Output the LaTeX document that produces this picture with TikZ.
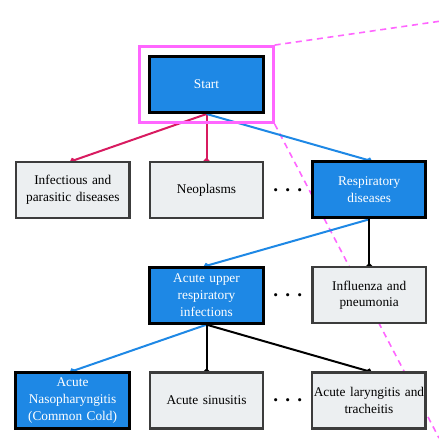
\documentclass[tikz,border=0pt]{standalone}
\usepackage{fontspec}
\setmainfont{Liberation Serif}
\usetikzlibrary{positioning,arrows.meta,backgrounds,fit,calc}
\definecolor{hiblue}{RGB}{30,136,229}
\definecolor{hired}{RGB}{216,27,96}
\definecolor{hipink}{RGB}{255,102,255}
\definecolor{boxgray}{RGB}{236,239,241}
\definecolor{edgegray}{RGB}{60,60,60}
\tikzstyle{box0} = [rectangle, draw=edgegray, line width=1.8pt, fill=boxgray, %
   text width=85pt, minimum width=85pt, minimum height=42pt, inner xsep=0pt, align=center, %
   font=\fontsize{10}{12.5}\selectfont]
\tikzstyle{box1} = [box0, draw=black, line width=2.2pt, fill=hiblue, text=white]
\tikzstyle{line} = [draw, line width=1.5pt, -{Circle[length=4pt]}, shorten >=-2pt]
\tikzstyle{dots} = [font=\Large\bfseries, inner sep=1pt]
\tikzstyle{zoombox} = [rectangle, draw=hipink, line width=2.2pt, inner sep=6.4pt]
\tikzstyle{zoomline} = [draw=hipink, line width=1.2pt, dash pattern=on 4.5pt off 3.5pt]
\newcommand{\gapdots}{.\hspace{5.4pt}.\hspace{5.4pt}.}

\begin{document}
\begin{tikzpicture}
   \useasboundingbox (0,0) rectangle (329.25pt,-335.25pt);
   % Place nodes
   \node[box1] (Start) at (154.9pt,-63.4pt) {Start};
   \node[zoombox, fit=(Start)] (Focus) {};

   % Second level %%%%%%%%%%%%%%%%%%%%%%%%%%%%%%%%%%%%%%%%%%%%%%%%%%%%%%
   \node[box0, below=35pt of Start] (Neo) {Neoplasms};
   \node[box0, left=13.5pt of Neo] (Infect) {Infectious and\\parasitic diseases};
   \node[box1, right=35pt of Neo] (Resp) {Respiratory\\diseases};
   \node[dots] (dotsA) at ($(Neo)!0.5!(Resp)$) {\gapdots};

   % Third level %%%%%%%%%%%%%%%%%%%%%%%%%%%%%%%%%%%%%%%%%%%%%%%%%%%%%%%
   \node[box0, below=35pt of Resp] (Flu) {Influenza and\\pneumonia};
   \node[box1, left=35pt of Flu] (AURI) {Acute upper\\respiratory\\infections};
   \node[dots] (dotsB) at ($(AURI)!0.5!(Flu)$) {\gapdots};

   % Fourth level %%%%%%%%%%%%%%%%%%%%%%%%%%%%%%%%%%%%%%%%%%%%%%%%%%%%%%
   \node[box0, below=35pt of AURI] (Sinus) {Acute sinusitis};
   \node[box1, left=13.5pt of Sinus] (Cold) {Acute\\Nasopharyngitis\\(Common Cold)};
   \node[box0, right=35pt of Sinus] (Laryn) {Acute laryngitis and\\tracheitis};
   \node[dots] (dotsC) at ($(Sinus)!0.5!(Laryn)$) {\gapdots};

   \coordinate (zoomTop) at (329.25pt,-16pt);
   \coordinate (zoomBot) at (329.25pt,-328.5pt);

   % Draw edges
   \begin{scope}[on background layer]
      \path [zoomline] (Focus.north east) -- (zoomTop);
      \path [zoomline] (Focus.south east) -- (zoomBot);
      \path [line, hired] (Start.south) -- (Infect.north);
      \path [line, hired] (Start.south) -- (Neo.north);
      \path [line, hiblue] (Start.south) -- (Resp.north);
      \path [line, hiblue] (Resp.south) -- (AURI.north);
      \path [line, black] (Resp.south) -- (Flu.north);
      \path [line, hiblue] (AURI.south) -- (Cold.north);
      \path [line, black] (AURI.south) -- (Sinus.north);
      \path [line, black] (AURI.south) -- (Laryn.north);
   \end{scope}
\end{tikzpicture}
\end{document}
